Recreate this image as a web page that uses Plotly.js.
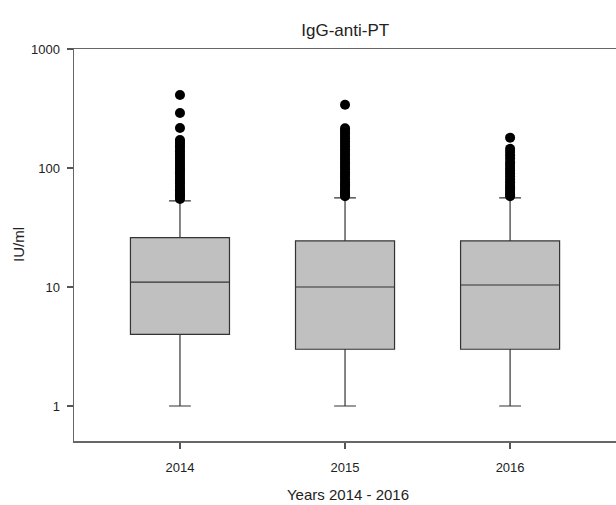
<!DOCTYPE html>
<html>
<head>
<meta charset="utf-8">
<script src="https://cdn.plot.ly/plotly-3.0.1.min.js"></script>
<style>html,body{margin:0;padding:0;background:#fff;overflow:hidden;}#wrap{width:616px;height:505px;overflow:hidden;}#chart{width:622px;height:505px;}</style>
</head>
<body>
<div id="wrap"><div id="chart"></div></div>
<script>
var years = ["2014", "2015", "2016"];
var q1 = [4.0, 3.0, 3.0];
var median = [11.0, 10.0, 10.4];
var q3 = [26.0, 24.4, 24.4];
var lowerWhisker = [1.0, 1.0, 1.0];
var upperWhisker = [53, 56, 56];
var outliers2014 = [55, 57, 59, 61, 63, 65, 68, 71, 74, 77, 80, 84, 88, 92, 96, 100, 105, 110, 115, 120, 126, 132, 138, 145, 152, 160, 166, 172, 217, 290, 410];
var outliers2015 = [58, 60, 62, 64, 67, 70, 73, 76, 80, 84, 88, 92, 97, 102, 107, 112, 118, 124, 130, 137, 144, 152, 160, 168, 177, 186, 196, 206, 216, 340];
var outliers2016 = [58, 60, 63, 66, 69, 72, 76, 80, 85, 90, 95, 100, 106, 112, 120, 128, 136, 145, 180];

var positions = years.map(function(_, i){ return i; });
var traces = [{
  type: "box",
  x: positions,
  q1: q1, median: median, q3: q3,
  lowerfence: lowerWhisker, upperfence: upperWhisker,
  width: 0.6,
  whiskerwidth: 0.22,
  fillcolor: "#c0c0c0",
  line: {color: "#333333", width: 1.2},
  boxpoints: false,
  hoverinfo: "skip",
  showlegend: false
}];
var allOut = [outliers2014, outliers2015, outliers2016];
allOut.forEach(function(vals, i){
  traces.push({
    type: "scatter",
    mode: "markers",
    x: vals.map(function(){ return positions[i]; }),
    y: vals,
    marker: {color: "#000000", size: 10},
    showlegend: false,
    hoverinfo: "skip"
  });
});

var font = "Liberation Sans, Arial, sans-serif";
var layout = {
  width: 622, height: 505,
  margin: {l: 74, r: 0, t: 49, b: 64},
  paper_bgcolor: "#ffffff",
  plot_bgcolor: "#ffffff",
  font: {family: font, color: "#222222"},
  title: {text: "IgG-anti-PT", font: {family: font, size: 17, color: "#222"}, x: 0.555, xanchor: "center", y: 0.94, yanchor: "middle"},
  showlegend: false,
  xaxis: {
    range: [-0.642, 2.678],
    color: "#222",
    tickmode: "array",
    tickvals: positions,
    ticktext: years,
    ticks: "outside", ticklen: 6, tickcolor: "#555", tickwidth: 1.2,
    ticklabelstandoff: 8,
    showgrid: false, zeroline: false,
    showline: true, linecolor: "#666", linewidth: 1.5, mirror: true,
    tickfont: {family: font, size: 13, color: "#222"},
    title: {text: "Years 2014 - 2016", font: {family: font, size: 15, color: "#222"}, standoff: 15}
  },
  yaxis: {
    type: "log",
    range: [-0.294, 3],
    color: "#222",
    tickmode: "array",
    tickvals: [1, 10, 100, 1000],
    ticktext: ["1", "10", "100", "1000"],
    ticks: "outside", ticklen: 6, tickcolor: "#555", tickwidth: 1.2,
    ticklabelstandoff: 4,
    showgrid: false, zeroline: false,
    showline: true, linecolor: "#666", linewidth: 1.5,
    tickfont: {family: font, size: 13, color: "#222"}
  },
  annotations: [{
    text: "IU/ml", textangle: -90,
    xref: "paper", yref: "paper", x: 0, y: 0.5,
    xanchor: "center", yanchor: "middle", xshift: -56,
    showarrow: false,
    font: {family: font, size: 15, color: "#222"}
  }]
};
Plotly.newPlot("chart", traces, layout, {staticPlot: true});
</script>
</body>
</html>
